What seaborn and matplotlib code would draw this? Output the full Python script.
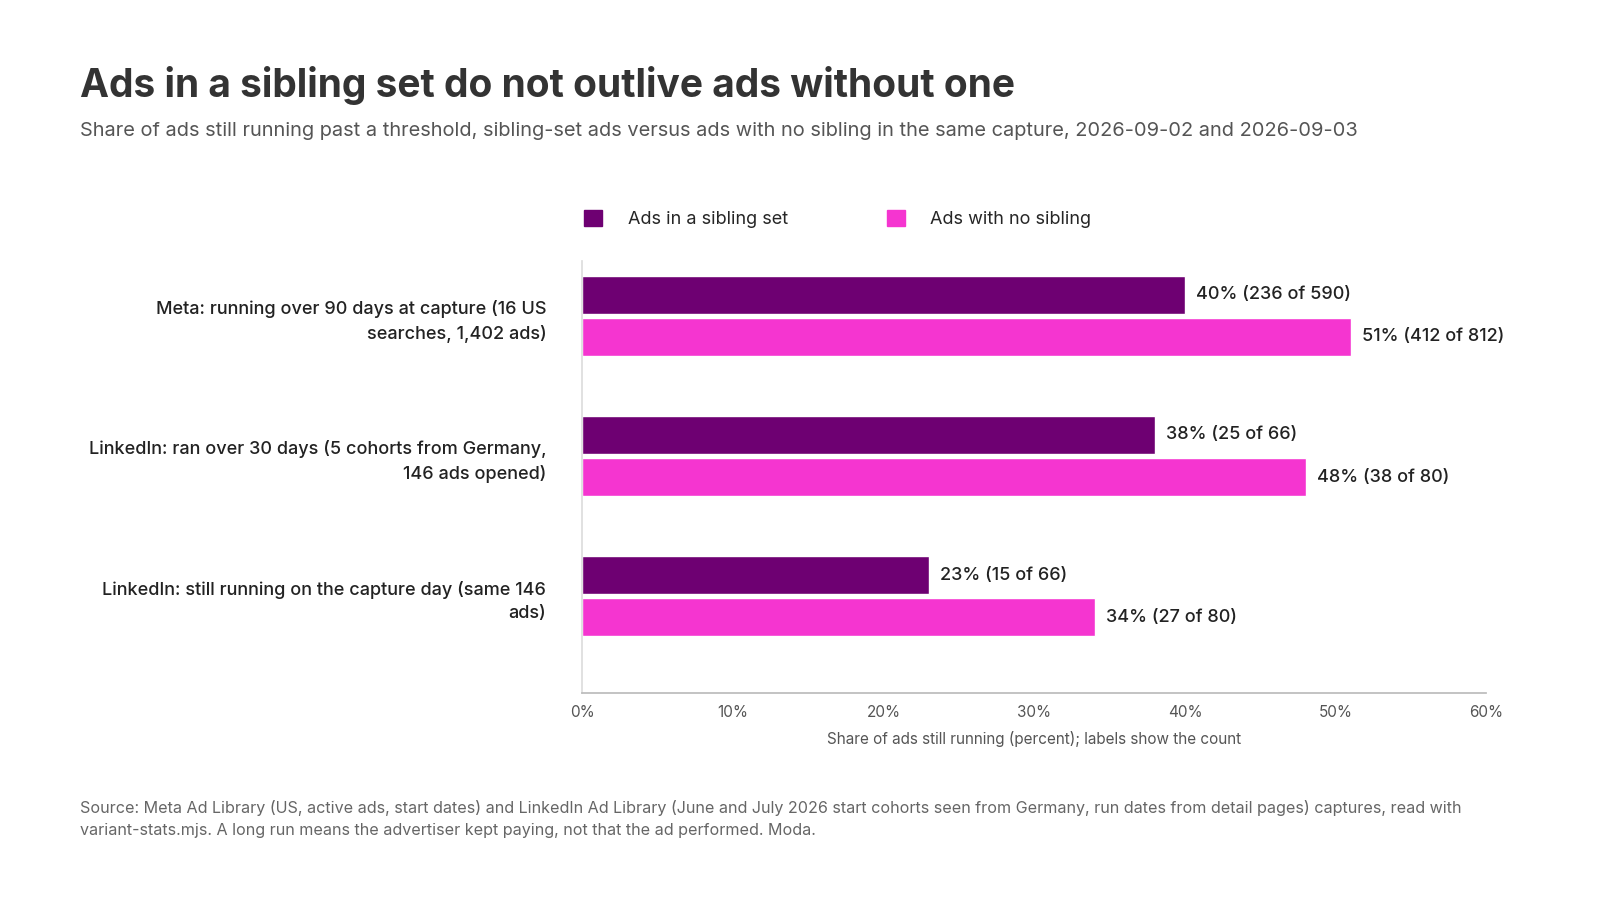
import matplotlib
matplotlib.use('Agg')
import matplotlib.pyplot as plt
from matplotlib.patches import Patch
import seaborn as sns
import pandas as pd

categories = [
    "Meta: running over 90 days at capture (16 US\nsearches, 1,402 ads)",
    "LinkedIn: ran over 30 days (5 cohorts from Germany,\n146 ads opened)",
    "LinkedIn: still running on the capture day (same 146\nads)",
]
series = ["Ads in a sibling set", "Ads with no sibling"]
sibling_pct = [40, 38, 23]
sibling_counts = ["236 of 590", "25 of 66", "15 of 66"]
nosib_pct = [51, 48, 34]
nosib_counts = ["412 of 812", "38 of 80", "27 of 80"]
colors = ["#6E0072", "#F535D0"]

df = pd.DataFrame({
    "cat": categories * 2,
    "series": [series[0]] * 3 + [series[1]] * 3,
    "pct": sibling_pct + nosib_pct,
})

sns.set_theme(style="white")
plt.rcParams['font.family'] = ['Inter', 'DejaVu Sans']

fig = plt.figure(figsize=(16, 9), dpi=100)
ax = fig.add_axes([0.364, 0.23, 0.565, 0.48])
sns.barplot(data=df, y="cat", x="pct", hue="series", palette=colors,
            orient="h", width=0.6, gap=0.1, saturation=1, ax=ax, legend=False)

labels = [sibling_counts, nosib_counts]
pcts = [sibling_pct, nosib_pct]
for i, cont in enumerate(ax.containers):
    ax.bar_label(cont, labels=[f"{p}% ({c})" for p, c in zip(pcts[i], labels[i])],
                 padding=8, fontsize=13, fontweight='medium', color="#222222")

ax.set_ylim(2.69, -0.39)
ax.set_xlim(0, 60)
ax.set_xticks(range(0, 61, 10))
ax.set_xticklabels([f"{t}%" for t in range(0, 61, 10)], fontsize=11, color="#555555")
ax.tick_params(axis='x', length=5, color="#bbbbbb", width=1)
ax.tick_params(axis='y', length=0, labelsize=13, labelcolor="#222222", pad=26)
for lbl in ax.get_yticklabels():
    lbl.set_ha('right')
    lbl.set_fontweight('medium')
    lbl.set_linespacing(1.5)
ax.set_ylabel("")
ax.set_xlabel("Share of ads still running (percent); labels show the count",
              fontsize=11, color="#555555", labelpad=8)
sns.despine(ax=ax, top=True, right=True)
ax.spines['left'].set_color("#dddddd")
ax.spines['bottom'].set_color("#bbbbbb")

handles = [Patch(color=c, label=s) for c, s in zip(colors, series)]
fig.legend(handles=handles, loc='center left', bbox_to_anchor=(0.355, 0.757),
           ncol=2, frameon=False, fontsize=13, handlelength=1.0, handleheight=1.0,
           columnspacing=5.5, handletextpad=1.4)

fig.text(0.05, 0.905, "Ads in a sibling set do not outlive ads without one",
         fontsize=28, fontweight='bold', color="#333333", va='center')
fig.text(0.05, 0.855, "Share of ads still running past a threshold, sibling-set ads versus ads with no sibling in the same capture, 2026-09-02 and 2026-09-03",
         fontsize=14.4, color="#555555", va='center')
fig.text(0.05, 0.09, "Source: Meta Ad Library (US, active ads, start dates) and LinkedIn Ad Library (June and July 2026 start cohorts seen from Germany, run dates from detail pages) captures, read with\nvariant-stats.mjs. A long run means the advertiser kept paying, not that the ad performed. Moda.",
         fontsize=11.6, color="#666666", va='center', linespacing=1.6)

fig.savefig("out.png", dpi=100, facecolor="white")
